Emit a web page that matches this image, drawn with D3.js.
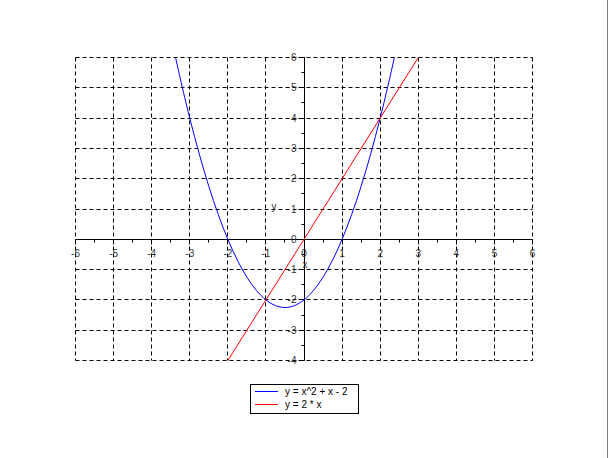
<!DOCTYPE html>
<html><head><meta charset="utf-8">
<script src="https://cdn.jsdelivr.net/npm/d3@7"></script>
<style>html,body{margin:0;padding:0;background:#fff;}svg{display:block;}</style>
</head><body>
<script>
// ---- data ----
const xTicks = [-6,-5,-4,-3,-2,-1,0,1,2,3,4,5,6];
const yTicks = [-4,-3,-2,-1,0,1,2,3,4,5,6];
const seriesNames = ["y = x^2 + x - 2", "y = 2 * x"];
const seriesColors = ["#0000ff", "#ff0000"];
const parabolaX = [-3.372,-3.25,-3.0,-2.75,-2.5,-2.25,-2.0,-1.75,-1.5,-1.25,-1.0,-0.75,-0.5,-0.25,0,0.25,0.5,0.75,1.0,1.25,1.5,1.75,2.0,2.25,2.372];
const parabolaY = [6.0,5.3125,4.0,2.8125,1.75,0.8125,0,-0.6875,-1.25,-1.6875,-2.0,-2.1875,-2.25,-2.1875,-2.0,-1.6875,-1.25,-0.6875,0,0.8125,1.75,2.8125,4.0,5.3125,6.0];
const lineX = [-2, 3];
const lineY = [-4, 6];

const W = 608, H = 458;
const svg = d3.select("body").append("svg").attr("width", W).attr("height", H);
svg.append("rect").attr("width", W).attr("height", H).attr("fill", "#fff");
// right edge border
svg.append("line").attr("x1", 607.5).attr("x2", 607.5).attr("y1", 0).attr("y2", H)
  .attr("stroke", "#808080").attr("stroke-width", 1);

const x = d3.scaleLinear().domain([-6, 6]).range([75.5, 532.5]);
const y = d3.scaleLinear().domain([-4, 6]).range([360.5, 57.5]);
const font = "Liberation Sans, Arial, sans-serif";

// grid
const grid = svg.append("g").attr("stroke", "#000").attr("stroke-width", 1)
  .attr("stroke-dasharray", "4,3").attr("fill", "none");
xTicks.forEach(t => {
  const px = Math.round(x(t) - 0.5) + 0.5;
  grid.append("line").attr("x1", px).attr("x2", px).attr("y1", y(6)).attr("y2", y(-4));
});
yTicks.forEach(t => {
  const py = Math.round(y(t) - 0.5) + 0.5;
  grid.append("line").attr("x1", x(-6)).attr("x2", x(6)).attr("y1", py).attr("y2", py);
});

// axes
const x0 = Math.round(x(0) - 0.5) + 0.5, y0 = Math.round(y(0) - 0.5) + 0.5;
const ax = svg.append("g").attr("stroke", "#000").attr("stroke-width", 1);
ax.append("line").attr("x1", x(-6)).attr("x2", x(6)).attr("y1", y0).attr("y2", y0);
ax.append("line").attr("x1", x0).attr("x2", x0).attr("y1", y(-4)).attr("y2", y(6));
// x ticks
xTicks.forEach(t => {
  const px = Math.round(x(t) - 0.5) + 0.5;
  ax.append("line").attr("x1", px).attr("x2", px).attr("y1", y0).attr("y2", y0 + 5);
  if (t < 6) {
    const pm = Math.round(x(t + 0.5) - 0.5) + 0.5;
    ax.append("line").attr("x1", pm).attr("x2", pm).attr("y1", y0).attr("y2", y0 + 3);
  }
});
yTicks.forEach(t => {
  const py = Math.round(y(t) - 0.5) + 0.5;
  ax.append("line").attr("x1", x0 - 6).attr("x2", x0).attr("y1", py).attr("y2", py);
  if (t < 6) {
    const pm = Math.round(y(t + 0.5) - 0.5) + 0.5;
    ax.append("line").attr("x1", x0 - 3).attr("x2", x0).attr("y1", pm).attr("y2", pm);
  }
});

// tick labels
const lab = svg.append("g").attr("font-family", font).attr("font-size", 10).attr("fill", "#333");
xTicks.forEach(t => {
  lab.append("text").attr("x", x(t)).attr("y", y0 + 17).attr("text-anchor", "middle").text(t);
});
yTicks.forEach(t => {
  lab.append("text").attr("x", x0 - 8).attr("y", y(t) + 3.5).attr("text-anchor", "end").text(t);
});
lab.append("text").attr("x", 274).attr("y", 210).attr("text-anchor", "middle").text("y");
lab.append("text").attr("x", 305).attr("y", 268).attr("text-anchor", "middle").text("x");

// curves
const plot = svg.append("g");
const line = d3.line().x(d => x(d[0])).y(d => y(d[1]));
const parab = parabolaX.map((v, i) => [v, parabolaY[i]]);
plot.append("path").attr("d", line.curve(d3.curveCatmullRom)(parab))
  .attr("fill", "none").attr("stroke", seriesColors[0]).attr("stroke-width", 1);
const lin = lineX.map((v, i) => [v, lineY[i]]);
plot.append("path").attr("d", d3.line().x(d => x(d[0])).y(d => y(d[1]))(lin))
  .attr("fill", "none").attr("stroke", seriesColors[1]).attr("stroke-width", 1);

// legend
const lg = svg.append("g");
lg.append("rect").attr("x", 250.5).attr("y", 384.5).attr("width", 108).attr("height", 29)
  .attr("fill", "#fff").attr("stroke", "#000").attr("stroke-width", 1);
seriesNames.forEach((n, i) => {
  const ly = 391.5 + i * 13;
  lg.append("line").attr("x1", 255).attr("x2", 278).attr("y1", ly).attr("y2", ly)
    .attr("stroke", seriesColors[i]).attr("stroke-width", 1);
  lg.append("text").attr("x", 285).attr("y", ly + 3.5).attr("font-family", font)
    .attr("font-size", 10).attr("fill", "#000").text(n);
});
</script>
</body></html>
